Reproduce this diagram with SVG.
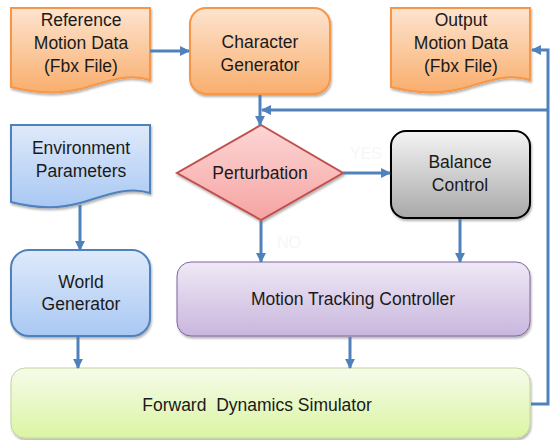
<svg xmlns="http://www.w3.org/2000/svg" width="550" height="440" viewBox="0 0 550 440">
<style>
text{font-family:"Liberation Sans",Arial,sans-serif;font-size:17.5px;fill:#1a1a1a;text-anchor:middle}
.conn{stroke:#4f81bd;stroke-width:3;fill:none}
.faint{fill:#f6f6f6;font-size:16px}
</style>
<defs>
<linearGradient id="gO" x1="0" y1="0" x2="0" y2="1"><stop offset="0" stop-color="#fde4cf"/><stop offset="1" stop-color="#f9ae6d"/></linearGradient>
<linearGradient id="gB" x1="0" y1="0" x2="0" y2="1"><stop offset="0" stop-color="#dfeafa"/><stop offset="1" stop-color="#a9c8f3"/></linearGradient>
<linearGradient id="gR" x1="0" y1="0" x2="0" y2="1"><stop offset="0" stop-color="#fcd6d5"/><stop offset="1" stop-color="#f6a4a2"/></linearGradient>
<linearGradient id="gG" x1="0" y1="0" x2="0" y2="1"><stop offset="0" stop-color="#f4f4f4"/><stop offset="1" stop-color="#a8a8a8"/></linearGradient>
<linearGradient id="gP" x1="0" y1="0" x2="0" y2="1"><stop offset="0" stop-color="#efe9f5"/><stop offset="1" stop-color="#c9b6de"/></linearGradient>
<linearGradient id="gL" x1="0" y1="0" x2="0" y2="1"><stop offset="0" stop-color="#f6fbea"/><stop offset="1" stop-color="#dbf5a3"/></linearGradient>
<filter id="sh" x="-10%" y="-10%" width="120%" height="130%"><feDropShadow dx="1" dy="2" stdDeviation="1.2" flood-color="#000" flood-opacity="0.3"/></filter>
<marker id="ah" viewBox="0 0 10 10" refX="9" refY="5" markerWidth="3.3" markerHeight="3.3" orient="auto" markerUnits="strokeWidth"><path d="M0,0 L10,5 L0,10 Z" fill="#4f81bd"/></marker>
</defs>

<g id="reference-motion-data">
<path d="M11,8 H150 V80 C125,72 100,84 80,89 C55,95 30,92 11,87 Z" fill="url(#gO)" stroke="#f79646" stroke-width="2" filter="url(#sh)"/>
<text x="81" y="26">Reference</text>
<text x="81" y="49">Motion Data</text>
<text x="81" y="72">(Fbx File)</text>
</g>

<g id="character-generator">
<rect x="190" y="8" width="140" height="86" rx="16" fill="url(#gO)" stroke="#f79646" stroke-width="2" filter="url(#sh)"/>
<text x="260" y="48">Character</text>
<text x="260" y="71">Generator</text>
</g>

<g id="output-motion-data">
<path d="M391,8 H530 V80 C505,72 480,84 460,89 C435,95 410,92 391,87 Z" fill="url(#gO)" stroke="#f79646" stroke-width="2" filter="url(#sh)"/>
<text x="461" y="26">Output</text>
<text x="461" y="49">Motion Data</text>
<text x="461" y="72">(Fbx File)</text>
</g>

<g id="environment-parameters">
<path d="M11,125 H150 V193 C125,185 100,198 80,203 C55,210 30,207 11,202 Z" fill="url(#gB)" stroke="#4f81bd" stroke-width="2" filter="url(#sh)"/>
<text x="81" y="154">Environment</text>
<text x="81" y="177">Parameters</text>
</g>

<g id="world-generator">
<rect x="11" y="250" width="139" height="86" rx="18" fill="url(#gB)" stroke="#4f81bd" stroke-width="2" filter="url(#sh)"/>
<text x="81" y="288">World</text>
<text x="81" y="310">Generator</text>
</g>

<g id="perturbation">
<path d="M261,125 L343,173 L261,220 L177,173 Z" fill="url(#gR)" stroke="#c0504d" stroke-width="2" filter="url(#sh)"/>
<text x="260" y="179">Perturbation</text>
</g>

<g id="balance-control">
<rect x="391" y="131" width="139" height="87" rx="15" fill="url(#gG)" stroke="#000" stroke-width="2" filter="url(#sh)"/>
<text x="460" y="168">Balance</text>
<text x="460" y="191">Control</text>
</g>

<g id="motion-tracking-controller">
<rect x="177" y="262" width="353" height="74" rx="14" fill="url(#gP)" stroke="#8064a2" stroke-width="1" filter="url(#sh)"/>
<text x="353" y="305">Motion Tracking Controller</text>
</g>

<g id="forward-dynamics-simulator">
<rect x="11" y="368" width="519" height="70" rx="14" fill="url(#gL)" stroke="#c3d69b" stroke-width="1" filter="url(#sh)"/>
<text x="257" y="411" xml:space="preserve">Forward  Dynamics Simulator</text>
</g>

<g id="labels">
<text class="faint" x="366" y="159">YES</text>
<text class="faint" x="289" y="248">NO</text>
</g>

<g id="connectors">
<line class="conn" x1="150" y1="51" x2="189" y2="51" marker-end="url(#ah)"/>
<line class="conn" x1="260" y1="95" x2="260" y2="125" marker-end="url(#ah)"/>
<polyline class="conn" points="531,404 548,404 548,50 532,50" marker-end="url(#ah)"/>
<line class="conn" x1="548" y1="110" x2="262" y2="110" marker-end="url(#ah)"/>
<line class="conn" x1="343" y1="173" x2="390" y2="173" marker-end="url(#ah)"/>
<line class="conn" x1="261" y1="221" x2="261" y2="262" marker-end="url(#ah)"/>
<line class="conn" x1="460" y1="219" x2="460" y2="262" marker-end="url(#ah)"/>
<line class="conn" x1="80" y1="205" x2="80" y2="250" marker-end="url(#ah)"/>
<line class="conn" x1="78" y1="337" x2="78" y2="368" marker-end="url(#ah)"/>
<line class="conn" x1="350" y1="337" x2="350" y2="368" marker-end="url(#ah)"/>
</g>
</svg>
